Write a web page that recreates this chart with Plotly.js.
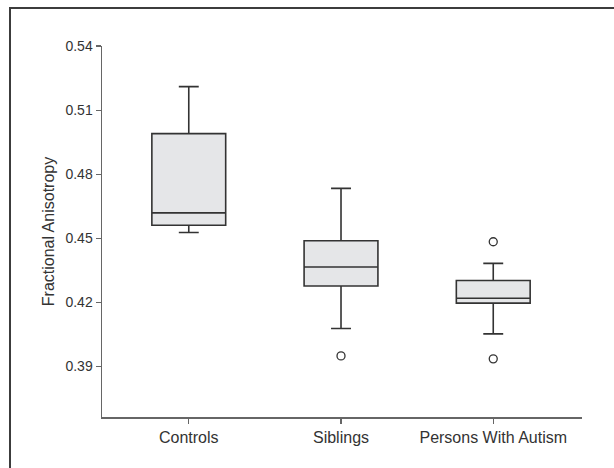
<!DOCTYPE html>
<html>
<head>
<meta charset="utf-8">
<script src="https://cdn.plot.ly/plotly-3.0.1.min.js"></script>
<style>
  html, body { margin: 0; padding: 0; background: #fff; }
  #wrap { position: relative; width: 614px; height: 468px; overflow: hidden; }
  #chart { width: 614px; height: 468px; }
  #frame { position: absolute; left: 9px; top: 7px; width: 700px; height: 600px;
           border-top: 2px solid #3c3c3c; border-left: 2px solid #3c3c3c; pointer-events: none; }
</style>
</head>
<body>
<div id="wrap">
  <div id="chart"></div>
  <div id="frame"></div>
</div>
<script>
// Categories
const categories = ["Controls", "Siblings", "Persons With Autism"];
// Box statistics (Fractional Anisotropy)
const lowerWhisker = [0.4527, 0.4078, 0.4053];
const q1Values     = [0.4561, 0.4277, 0.4197];
const medianValues = [0.4619, 0.4366, 0.4220];
const q3Values     = [0.4990, 0.4489, 0.4303];
const upperWhisker = [0.5210, 0.4734, 0.4383];
// Outliers
const outlierGroups = ["Siblings", "Persons With Autism", "Persons With Autism"];
const outlierValues = [0.3950, 0.4484, 0.3936];
// Y tick labels
const yTicks = [0.39, 0.42, 0.45, 0.48, 0.51, 0.54];
const yTickText = ["0.39", "0.42", "0.45", "0.48", "0.51", "0.54"];

const FONT = "'Liberation Sans Narrow', 'Arial Narrow', 'Liberation Sans', sans-serif";

const boxTrace = {
  type: "box",
  x: categories,
  q1: q1Values,
  median: medianValues,
  q3: q3Values,
  lowerfence: lowerWhisker,
  upperfence: upperWhisker,
  boxpoints: false,
  width: 0.485,
  whiskerwidth: 0.27,
  fillcolor: "#e5e6e8",
  line: { color: "#333333", width: 1.6 },
  hoverinfo: "skip",
  showlegend: false
};

const outlierTrace = {
  type: "scatter",
  mode: "markers",
  x: outlierGroups,
  y: outlierValues,
  marker: { symbol: "circle-open", size: 8, color: "#333333", line: { width: 1.3, color: "#333333" } },
  hoverinfo: "skip",
  showlegend: false
};

const layout = {
  width: 614,
  height: 468,
  margin: { l: 102, r: 32, t: 46, b: 51 },
  paper_bgcolor: "#ffffff",
  plot_bgcolor: "#ffffff",
  showlegend: false,
  font: { family: FONT, size: 16, color: "#333333" },
  xaxis: {
    type: "category",
    categoryorder: "array",
    categoryarray: categories,
    range: [-0.57, 2.583],
    showline: true,
    linecolor: "#666666",
    linewidth: 1.5,
    ticks: "outside",
    ticklen: 5,
    tickwidth: 1.2,
    tickcolor: "#666666",
    showgrid: false,
    zeroline: false,
    tickfont: { family: FONT, size: 16, color: "#333333" }
  },
  yaxis: {
    range: [0.3664, 0.54],
    tickvals: yTicks,
    ticktext: yTickText,
    showline: true,
    linecolor: "#666666",
    linewidth: 1.5,
    ticks: "outside",
    ticklen: 5,
    tickwidth: 1.2,
    tickcolor: "#666666",
    showgrid: false,
    zeroline: false,
    automargin: false,
    tickfont: { family: FONT, size: 14, color: "#333333" },
    title: { text: "Fractional Anisotropy", standoff: 7, font: { family: FONT, size: 16, color: "#333333" } }
  }
};

Plotly.newPlot("chart", [boxTrace, outlierTrace], layout, { displayModeBar: false, staticPlot: true });
</script>
</body>
</html>
